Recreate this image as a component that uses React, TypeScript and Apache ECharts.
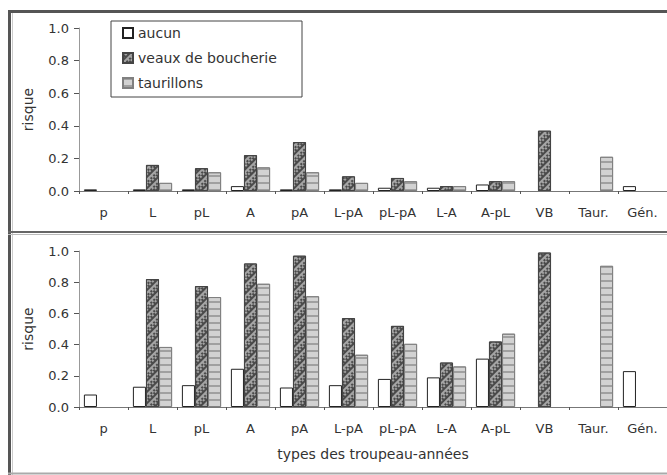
import React, { useEffect, useRef } from "react";
import * as echarts from "echarts";

const categories = ["p", "L", "pL", "A", "pA", "L-pA", "pL-pA", "L-A", "A-pL", "VB", "Taur.", "Gén."];
const seriesNames = ["aucun", "veaux de boucherie", "taurillons"];

// top panel
const aucunTop = [0.01, 0.01, 0.01, 0.03, 0.01, 0.01, 0.02, 0.02, 0.04, null, null, 0.03];
const veauxTop = [null, 0.16, 0.14, 0.22, 0.3, 0.09, 0.08, 0.03, 0.06, 0.37, null, null];
const taurTop = [null, 0.05, 0.115, 0.145, 0.115, 0.05, 0.06, 0.03, 0.06, null, 0.21, null];

// bottom panel
const aucunBot = [0.08, 0.13, 0.14, 0.245, 0.125, 0.14, 0.18, 0.19, 0.31, null, null, 0.23];
const veauxBot = [null, 0.82, 0.775, 0.92, 0.97, 0.57, 0.52, 0.285, 0.42, 0.99, null, null];
const taurBot = [null, 0.385, 0.705, 0.79, 0.71, 0.335, 0.405, 0.26, 0.47, null, 0.905, null];

const yTicks = [0, 0.2, 0.4, 0.6, 0.8, 1.0];
const yAxisName = "risque";
const xAxisName = "types des troupeau-années";

const FONT = "DejaVu Sans";
const TXT = "#333";

const styles = [
  { color: "#ffffff", borderColor: "#222", borderWidth: 1 },
  {
    color: "#a4a4a4",
    borderColor: "#444",
    borderWidth: 1,
    decal: {
      symbol: "rect",
      symbolSize: 1,
      color: "#4a4a4a",
      dashArrayX: [[2, 2], [0, 2, 2]],
      dashArrayY: [2, 0],
      rotation: Math.PI / 4,
    },
  },
  {
    color: "#d2d2d2",
    borderColor: "#808080",
    borderWidth: 1,
    decal: {
      symbol: "rect",
      symbolSize: 1,
      color: "#a0a0a0",
      dashArrayX: [1, 0],
      dashArrayY: [2, 5],
      rotation: 0,
    },
  },
];

export default function App() {
  const ref = useRef<HTMLDivElement>(null);
  useEffect(() => {
    if (!ref.current) return;
    const chart = echarts.init(ref.current, null, { renderer: "svg" });
    const topData = [aucunTop, veauxTop, taurTop];
    const botData = [aucunBot, veauxBot, taurBot];
    const mkSeries = (data: (number | null)[][], idx: number) =>
      data.map((d, i) => ({
        type: "bar",
        name: seriesNames[i],
        xAxisIndex: idx,
        yAxisIndex: idx,
        data: d,
        barCategoryGap: "20%",
        barGap: "0%",
        itemStyle: styles[i],
      }));
    const xAxisBase = (gridIndex: number) => ({
      type: "category",
      gridIndex,
      data: categories,
      axisLine: { lineStyle: { color: "#777", width: 1 } },
      axisTick: { show: true, length: 3, lineStyle: { color: "#555" } },
      axisLabel: { color: TXT, fontFamily: FONT, fontSize: 13, margin: 15, interval: 0 },
    });
    const yAxisBase = (gridIndex: number) => ({
      type: "value",
      gridIndex,
      min: yTicks[0],
      max: yTicks[yTicks.length - 1],
      interval: 0.2,
      name: yAxisName,
      nameLocation: "middle",
      nameGap: 44,
      nameTextStyle: { color: TXT, fontFamily: FONT, fontSize: 14 },
      splitLine: { show: false },
      axisLine: { show: true, lineStyle: { color: "#999" } },
      axisTick: { show: true, length: 5, lineStyle: { color: "#555" } },
      axisLabel: {
        color: TXT,
        fontFamily: FONT,
        fontSize: 13,
        margin: 10,
        formatter: (v: number) => v.toFixed(1),
      },
    });
    chart.setOption({
      animation: false,
      backgroundColor: "#fff",
      grid: [
        { left: 79, right: -2, top: 28, height: 163 },
        { left: 79, right: -2, top: 251, height: 156 },
      ],
      xAxis: [
        xAxisBase(0),
        { ...xAxisBase(1), name: xAxisName, nameLocation: "middle", nameGap: 40, nameTextStyle: { color: TXT, fontFamily: FONT, fontSize: 14 } },
      ],
      yAxis: [yAxisBase(0), yAxisBase(1)],
      legend: {
        data: seriesNames,
        orient: "vertical",
        left: 122,
        top: 26,
        itemWidth: 10,
        itemHeight: 10,
        itemGap: 11,
        icon: "rect",
        textStyle: { color: TXT, fontFamily: FONT, fontSize: 14, lineHeight: 14 },
        padding: 0,
        selectedMode: false,
      },
      graphic: [
        { type: "rect", shape: { x: 111, y: 21, width: 191, height: 76 }, style: { fill: "none", stroke: "#444", lineWidth: 1 }, z: 10 },
        { type: "line", shape: { x1: 9.5, y1: 10, x2: 9.5, y2: 475 }, style: { stroke: "#555", lineWidth: 3 } },
        { type: "line", shape: { x1: 12.5, y1: 12, x2: 12.5, y2: 475 }, style: { stroke: "#ccc", lineWidth: 1 } },
        { type: "line", shape: { x1: 8, y1: 11.5, x2: 667, y2: 11.5 }, style: { stroke: "#555", lineWidth: 3 } },
        { type: "line", shape: { x1: 8, y1: 232, x2: 667, y2: 232 }, style: { stroke: "#666", lineWidth: 2 } },
        { type: "line", shape: { x1: 8, y1: 234.5, x2: 667, y2: 234.5 }, style: { stroke: "#bbb", lineWidth: 1 } },
        { type: "line", shape: { x1: 8, y1: 473.5, x2: 667, y2: 473.5 }, style: { stroke: "#aaa", lineWidth: 2 } },
      ],
      series: [...mkSeries(topData, 0), ...mkSeries(botData, 1)],
    });
    return () => chart.dispose();
  }, []);
  return (
    <div
      ref={ref}
      style={{ position: "absolute", left: 0, top: 0, width: 667, height: 475, background: "#fff", overflow: "hidden" }}
    />
  );
}
